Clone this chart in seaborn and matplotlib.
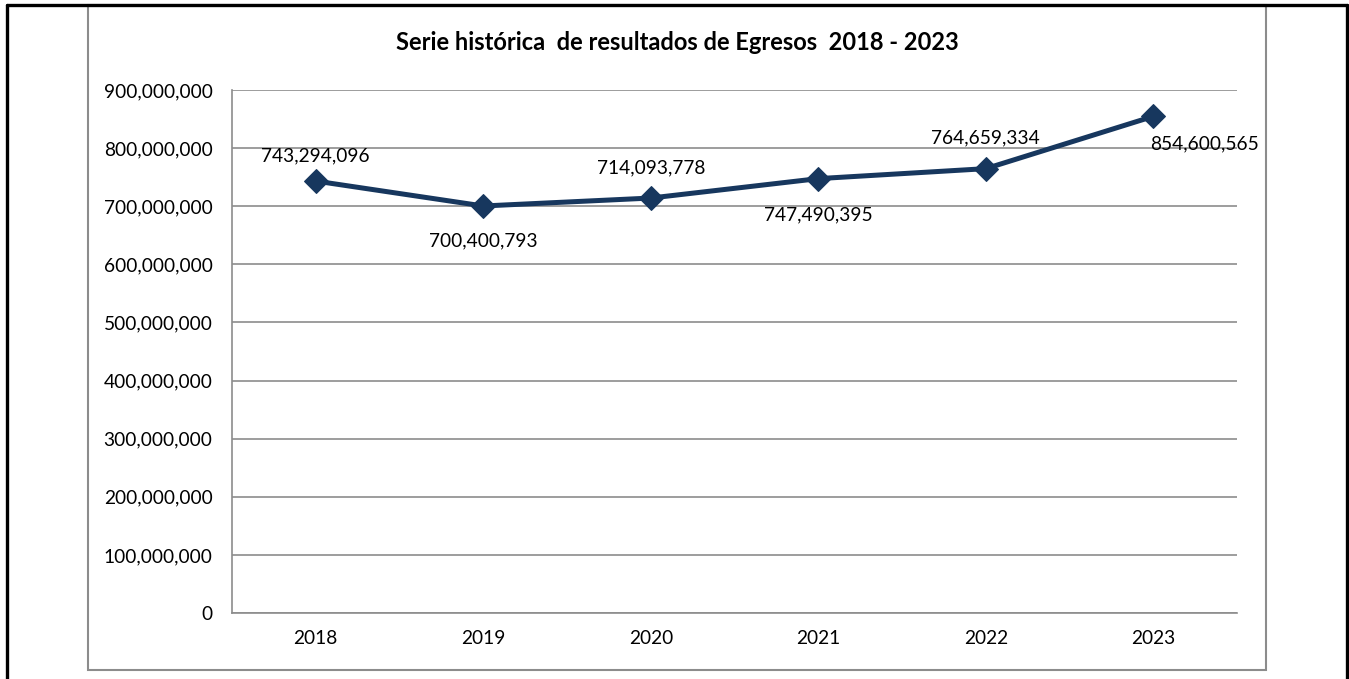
import matplotlib
matplotlib.use("Agg")
import matplotlib.pyplot as plt
import seaborn as sns
import pandas as pd
from matplotlib.patches import Rectangle
from matplotlib.lines import Line2D
from matplotlib.ticker import FuncFormatter

years = ["2018", "2019", "2020", "2021", "2022", "2023"]
values = [743294096, 700400793, 714093778, 747490395, 764659334, 854600565]
title = "Serie histórica  de resultados de Egresos  2018 - 2023"
yticks = [0, 100000000, 200000000, 300000000, 400000000, 500000000,
          600000000, 700000000, 800000000, 900000000]

sns.set_theme(style="white")
plt.rcParams['font.family'] = ['Lato', 'DejaVu Sans']

W, H = 1349, 679
fig = plt.figure(figsize=(W / 100, H / 100), dpi=100)
ax = fig.add_axes([232 / W, 1 - 613 / H, (1237 - 232) / W, (613 - 90) / H])

df = pd.DataFrame({"year": years, "value": values})
df["pos"] = range(len(years))
color = "#17375E"
sns.lineplot(data=df, x="pos", y="value", ax=ax, color=color, linewidth=3.6,
             marker="D", markersize=12.5, markeredgecolor=color, markerfacecolor=color)

ax.set_xlim(-0.5, len(years) - 0.5)
ax.set_ylim(0, 900000000)
ax.set_xticks(range(len(years)))
ax.set_xticklabels(years)
ax.set_yticks(yticks)
ax.yaxis.set_major_formatter(FuncFormatter(lambda v, p: f"{int(v):,}"))
ax.tick_params(axis="both", labelsize=13.8, colors="black", length=0)
ax.tick_params(axis="x", pad=12)
ax.tick_params(axis="y", pad=14)
ax.set_xlabel("")
ax.set_ylabel("")
ax.grid(axis="y", color="#8c8c8c", linewidth=1.2)
ax.set_axisbelow(True)
for s in ["top", "right"]:
    ax.spines[s].set_visible(False)
for s in ["left", "bottom"]:
    ax.spines[s].set_color("#8c8c8c")
    ax.spines[s].set_linewidth(1.2)

# data labels: (dx in points, dy in points, ha)
offsets = [(0, 18, "center"), (0, -25, "center"), (0, 22, "center"),
           (0, -26, "center"), (0, 22, "center"), (37, -20, "center")]
for i, (v, (dx, dy, ha)) in enumerate(zip(values, offsets)):
    ax.annotate(f"{v:,}", (i, v), xytext=(dx, dy), textcoords="offset points",
                ha=ha, va="center", fontsize=13.8, color="black")

fig.text(677 / W, 1 - 43 / H, title, ha="center", va="center",
         fontsize=17, fontweight="bold", color="black")

# outer gray chart box
fig.patches.append(Rectangle((88 / W, 1 - 670 / H), (1266 - 88) / W, (670 - 5) / H,
                             transform=fig.transFigure, fill=False,
                             edgecolor="#8c8c8c", linewidth=1.5))
# black page borders
for xs, ys in [([6.5 / W, 6.5 / W], [0, 1 - 4.5 / H]),
               ([1346.5 / W, 1346.5 / W], [0, 1 - 4.5 / H]),
               ([6.5 / W, 1346.5 / W], [1 - 4.5 / H, 1 - 4.5 / H])]:
    fig.add_artist(Line2D(xs, ys, transform=fig.transFigure, color="black", linewidth=2.4))

fig.savefig("out.png", dpi=100, facecolor="white")
